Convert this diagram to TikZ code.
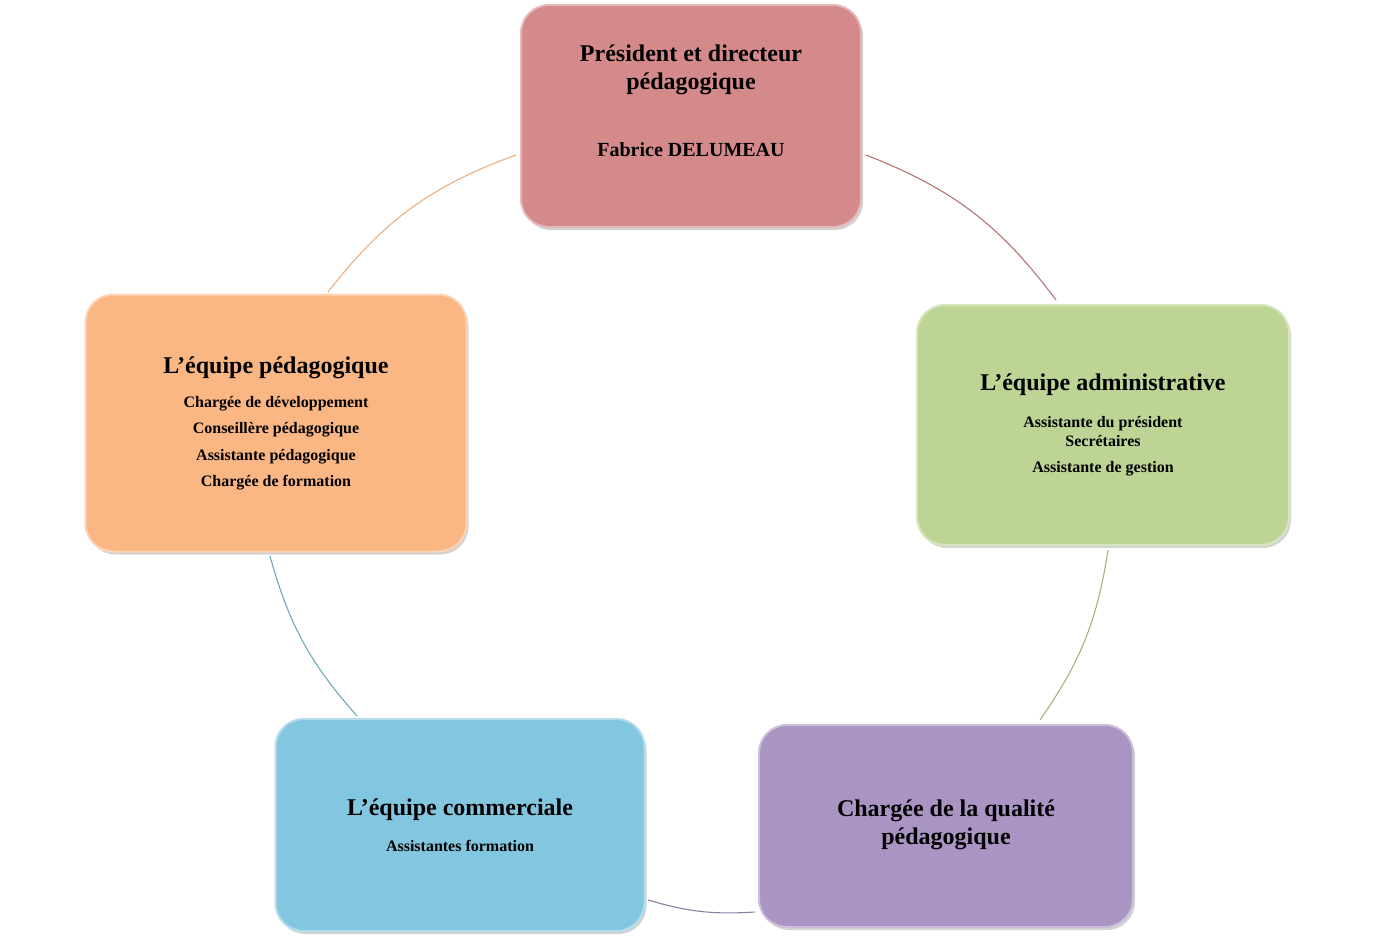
\documentclass[tikz,border=0pt]{standalone}
\usepackage{fontspec}
\setmainfont{Liberation Serif}
\usetikzlibrary{shadows}
\begin{document}
\begin{tikzpicture}[x=1pt,y=-1pt,
  box/.style={draw=#1!60!white,line width=2pt,rounded corners=28pt,fill=#1,
    drop shadow={shadow xshift=2pt,shadow yshift=-3pt,opacity=0.35},align=center},
  big/.style={font=\fontsize{24}{28}\selectfont},
  small/.style={font=\fontsize{16}{26}\selectfont},
  conn/.style={line width=1.1pt,draw=#1}]
\definecolor{cr}{HTML}{D48A8A}
\definecolor{cg}{HTML}{BDD495}
\definecolor{cp}{HTML}{A994C4}
\definecolor{cb}{HTML}{82C6E0}
\definecolor{co}{HTML}{FAB784}
\useasboundingbox (0,0) rectangle (1378,937);
\node[box=cr,minimum width=340pt,minimum height=222pt] (t) at (691,116) {};
\node[box=cg,minimum width=372pt,minimum height=240pt] (r) at (1103,425) {};
\node[box=cp,minimum width=374pt,minimum height=202pt] (br) at (946,826) {};
\node[box=cb,minimum width=369pt,minimum height=212pt] (bl) at (460,825) {};
\node[box=co,minimum width=381pt,minimum height=257pt] (l) at (276,423) {};
\node[big,align=center] (tt) at (691,70) {\textbf{Président et directeur}\\\textbf{pédagogique}};
\node[font=\fontsize{20}{24}\selectfont\bfseries] (tn) at (691,150) {Fabrice DELUMEAU};
\node[big] (rt) at (1103,385) {\textbf{L’équipe administrative}};
\node[font=\fontsize{16}{19}\selectfont\bfseries,align=center] (rs) at (1103,432) {Assistante du président\\Secrétaires};
\node[font=\fontsize{16}{19}\selectfont\bfseries] (rs2) at (1103,469) {Assistante de gestion};
\node[big,align=center] (brt) at (946,825) {\textbf{Chargée de la qualité}\\\textbf{pédagogique}};
\node[big] (blt) at (460,810) {\textbf{L’équipe commerciale}};
\node[font=\fontsize{16}{19}\selectfont\bfseries] (bls) at (460,846) {Assistantes formation};
\node[big] (lt) at (276,368) {\textbf{L’équipe pédagogique}};
\node[small,font=\fontsize{16}{26.5}\selectfont\bfseries,align=center] (ls) at (276,443) {Chargée de développement\\Conseillère pédagogique\\Assistante pédagogique\\Chargée de formation};
\coordinate (a1) at (866,155); \coordinate (a2) at (1056,300);
\coordinate (b1) at (1108,550); \coordinate (b2) at (1040,720);
\coordinate (c1) at (755,912); \coordinate (c2) at (648,900);
\coordinate (d1) at (357,716); \coordinate (d2) at (270,556);
\coordinate (e1) at (328,292); \coordinate (e2) at (516,155);
\draw[conn=cr!85!black] (a1) to[bend left=16] (a2);
\draw[conn=cg!85!black] (b1) to[bend left=13] (b2);
\draw[conn=cp!85!black] (c1) to[bend left=10] (c2);
\draw[conn=cb!85!black] (d1) to[bend left=13] (d2);
\draw[conn=co!95!black] (e1) to[bend left=16] (e2);
\end{tikzpicture}
\end{document}
